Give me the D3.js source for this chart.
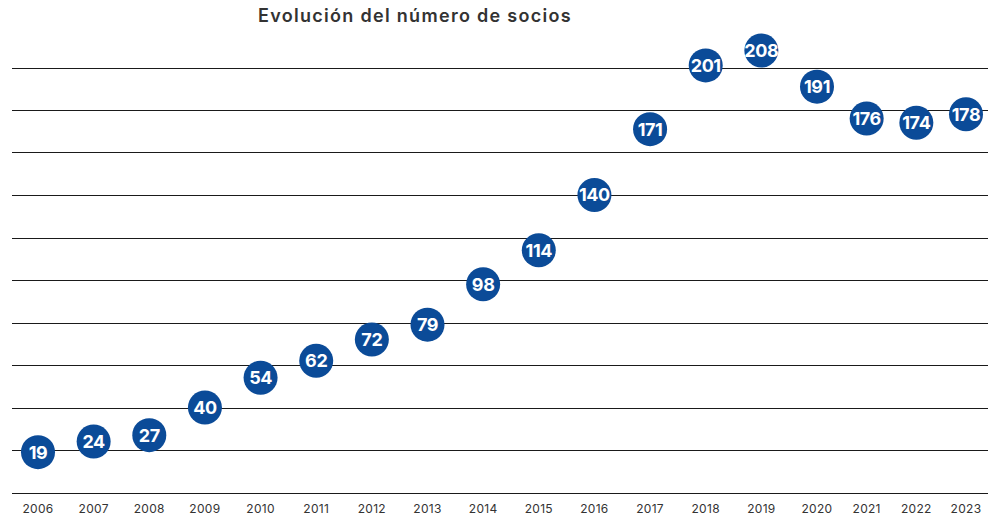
<!DOCTYPE html>
<html>
<head>
<meta charset="utf-8">
<script src="https://cdn.jsdelivr.net/npm/d3@7"></script>
<style>
  body { margin: 0; background: #fff; }
  svg { display: block; font-family: Inter, "Open Sans", sans-serif; }
</style>
</head>
<body>
<div id="chart"></div>
<script>
var years = [2006, 2007, 2008, 2009, 2010, 2011, 2012, 2013, 2014, 2015,
             2016, 2017, 2018, 2019, 2020, 2021, 2022, 2023];
var socios = [19, 24, 27, 40, 54, 62, 72, 79, 98, 114,
              140, 171, 201, 208, 191, 176, 174, 178];
var gridValues = [0, 20, 40, 60, 80, 100, 120, 140, 160, 180, 200];
var title = "Evolución del número de socios";

function base(){
    var w = 995;
    var h = 515;

    var svg = d3.select("#chart")
        .append("svg")
        .attr("width", w)
        .attr("height", h);

    // the last three years sit closer together in the original
    var x = d3.scaleLinear()
        .domain([2006, 2020, 2023])
        .range([38, 817, 966]);

    var y = d3.scaleLinear()
        .domain([0, 200])
        .range([492.5, 67.5]);

    // horizontal lines
    svg.selectAll("line.grid")
        .data(gridValues)
        .enter()
        .append("line")
        .attr("class", "grid")
        .attr("x1", 12)
        .attr("x2", 988)
        .attr("y1", function(d) { return Math.round(y(d)) + 0.5; })
        .attr("y2", function(d) { return Math.round(y(d)) + 0.5; })
        .attr("stroke", "#1a1a1a")
        .attr("stroke-width", 1.2);

    // year labels
    svg.selectAll("text.year")
        .data(years)
        .enter()
        .append("text")
        .attr("class", "year")
        .attr("x", function(d) { return x(d); })
        .attr("y", 513)
        .attr("text-anchor", "middle")
        .attr("font-size", "12px")
        .attr("letter-spacing", "0.3px")
        .attr("fill", "#333")
        .text(function(d) { return d; });

    svg.append("text")
        .attr("x", 415)
        .attr("y", 22)
        .attr("text-anchor", "middle")
        .attr("font-size", "18px")
        .attr("font-weight", 600)
        .attr("letter-spacing", "1.3px")
        .attr("fill", "#333")
        .text(title);

    var dots = svg.selectAll("g.dot")
        .data(years)
        .enter()
        .append("g")
        .attr("class", "dot")
        .attr("transform", function(d, i) {
            return "translate(" + x(d) + "," + y(socios[i]) + ")";
        });

    dots.append("circle")
        .attr("r", 17)
        .attr("fill", "#0b4b98");

    dots.append("text")
        .attr("text-anchor", "middle")
        .attr("dy", "0.36em")
        .attr("font-size", "18px")
        .attr("font-weight", "bold")
        .attr("letter-spacing", "-0.4px")
        .attr("fill", "#fff")
        .text(function(d, i) { return socios[i]; });
}

window.onload = base;
</script>
</body>
</html>
